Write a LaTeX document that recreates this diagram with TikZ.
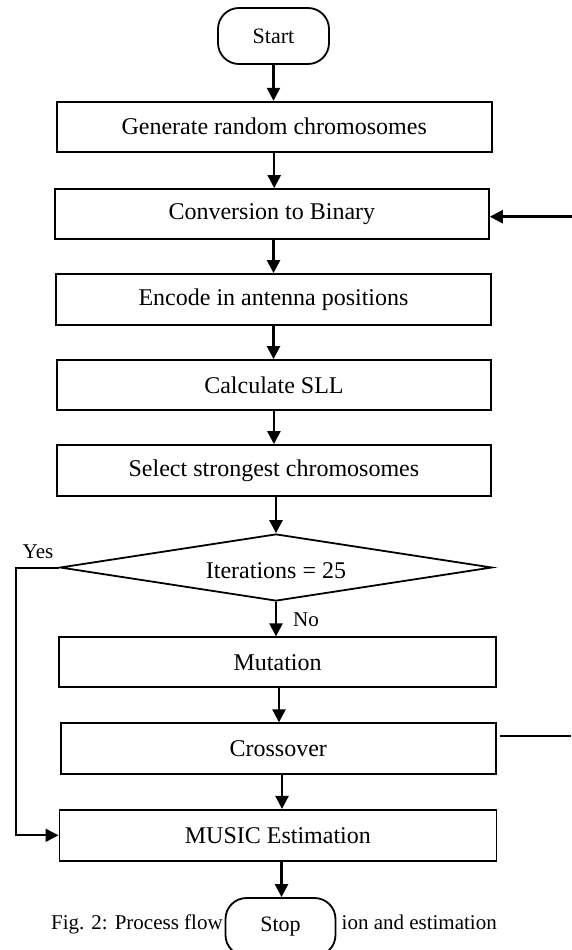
\documentclass[tikz,border=0pt]{standalone}
\usepackage{fontspec}
\setmainfont{Liberation Serif}
\usetikzlibrary{shapes.geometric,arrows.meta}
\tikzset{
  procbox/.style={draw, line width=1.8pt, inner sep=0pt, font=\fontsize{24}{28}\selectfont},
  termbox/.style={draw, fill=white, line width=1.8pt, rounded corners=21pt, inner sep=0pt, font=\fontsize{22}{26}\selectfont},
  decbox/.style={draw, diamond, shape aspect=6.4, line width=1.8pt, inner sep=0pt, font=\fontsize{24}{28}\selectfont},
  arr/.style={line width=2.5pt, -{Triangle[length=13pt,width=13pt]}},
  thinarr/.style={line width=2pt, -{Triangle[length=13pt,width=13pt]}},
  plainline/.style={line width=1.8pt},
  lbl/.style={inner sep=0pt, font=\fontsize{21}{25}\selectfont},
  captext/.style={inner sep=0pt, font=\fontsize{21}{25}\selectfont}
}
\begin{document}
\begin{tikzpicture}[x=1pt,y=-1pt]
\clip (0,0) rectangle (572,950);
\fill[white] (0,0) rectangle (572,950);

% caption (partly hidden behind Stop)
\node[captext, anchor=base west] (capL) at (51,929) {Fig. 2: Process flow};
\node[captext, anchor=base east] (capR) at (497,929) {ion and estimation};

\node[termbox, minimum width=111pt, minimum height=56pt] (start) at (273.5,36) {Start};
\node[procbox, minimum width=435pt, minimum height=50pt] (gen) at (274.2,126.7) {Generate random chromosomes};
\node[procbox, minimum width=434pt, minimum height=50pt] (conv) at (271.9,214) {Conversion to Binary};
\node[procbox, minimum width=435pt, minimum height=51pt] (enc) at (273.5,299.5) {Encode in antenna positions};
\node[procbox, minimum width=434pt, minimum height=50pt] (calc) at (273.9,385) {Calculate SLL};
\node[procbox, minimum width=434pt, minimum height=51pt] (sel) at (273.9,470.5) {Select strongest chromosomes};
\node[decbox, minimum width=432pt, minimum height=67pt, text height=22pt] (dec) at (276,567.5) {Iterations = 25};
\node[procbox, minimum width=437pt, minimum height=50pt] (mut) at (277.6,662.3) {Mutation};
\node[procbox, minimum width=435pt, minimum height=51pt] (cross) at (278.3,748.7) {Crossover};
\node[procbox, minimum width=437pt, minimum height=51pt] (music) at (277.9,835.3) {MUSIC Estimation};
\node[termbox, minimum width=110pt, minimum height=58pt] (stop) at (280.5,927) {Stop};

\node[lbl] (yes) at (38,552) {Yes};
\node[lbl, anchor=west] (no) at (293,620) {No};

\coordinate (yesc) at (15.7,567.5);
\coordinate (convin) at (572,216.7);
\coordinate (xo2) at (571,736);
\coordinate (mx) at (279,0);
\coordinate (cx) at (282,0);
\coordinate (sx) at (281.5,0);

\draw[arr] (start.south) -- (start.south |- gen.north);
\draw[arr] (gen.south) -- (gen.south |- conv.north);
\draw[arr] (enc.north |- conv.south) -- (enc.north);
\draw[arr] (enc.south) -- (enc.south |- calc.north);
\draw[arr] (calc.south) -- (calc.south |- sel.north);
\draw[arr] (dec.north |- sel.south) -- (dec.north);
\draw[arr] (dec.south) -- (dec.south |- mut.north);
\draw[arr] (mx |- mut.south) -- (mx |- cross.north);
\draw[arr] (cx |- cross.south) -- (cx |- music.north);
\draw[arr] (sx |- music.south) -- (sx |- stop.north);
\draw[thinarr] (dec.west) -- (yesc) |- (music.west);
\draw[arr] (convin) -- (convin -| conv.east);
\draw[plainline] ([xshift=3pt]xo2 -| cross.east) -- (xo2);
\end{tikzpicture}
\end{document}
